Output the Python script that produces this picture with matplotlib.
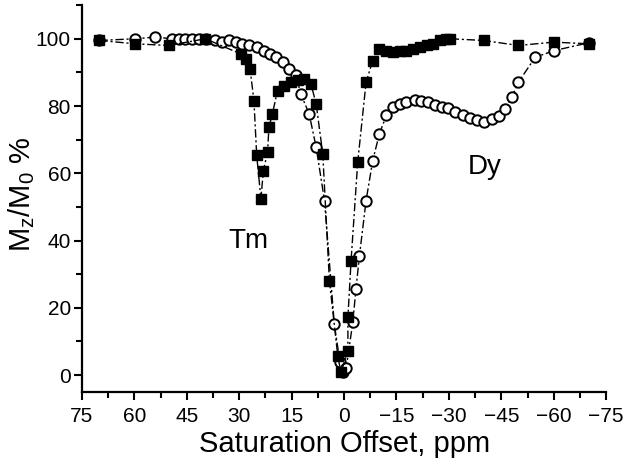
import matplotlib
matplotlib.use("Agg")
import matplotlib.pyplot as plt
from matplotlib.ticker import MultipleLocator

plt.rcParams['font.family'] = ['Liberation Sans', 'DejaVu Sans']
plt.rcParams['mathtext.fontset'] = 'custom'
plt.rcParams['mathtext.rm'] = 'Liberation Sans'
plt.rcParams['mathtext.default'] = 'regular'

# Tm (filled squares): offset in ppm, Mz/M0 in %
tm_offset = [70, 59.8, 50.2, 39.7, 29.6, 28.2, 26.9, 25.8, 25.0, 23.8, 23.1, 21.9,
             21.5, 20.5, 19.05, 17.2, 15.2, 13.3, 11.4, 9.5, 8.0, 6.1, 4.2, 1.8,
             0.9, -1.1, -1.1, -2.0, -3.9, -6.3, -8.2, -10.1, -12.1, -14.0, -15.9,
             -17.8, -19.7, -21.6, -23.6, -25.5, -27.4, -29.3, -30.3, -39.9, -49.9,
             -60.0, -70.0]
tm_signal = [99.5, 98.5, 98, 100, 95.5, 94, 91, 81.6, 65.3, 52.4, 60.8, 66.3,
             73.7, 77.7, 84.6, 86.1, 87.1, 87.6, 88.1, 86.6, 80.7, 65.8, 28.1, 5.7,
             0.8, 7.2, 17.2, 34, 63.3, 87.1, 93.5, 97, 96.5, 96, 96.5,
             96.5, 97, 97.5, 98, 98.5, 99.5, 100, 100, 99.5, 98,
             99, 98.5]

# Dy (open circles)
dy_offset = [70, 59.8, 54, 49.2, 47.3, 45.4, 43.5, 41.6, 39.5, 36.8, 34.9, 33.0,
             31.0, 29.1, 27.2, 25.0, 23.0, 21.2, 19.5, 17.6, 15.7, 13.8, 12.4, 10.0,
             8.0, 5.6, 2.8, 1.2, 0.3, -0.6, -2.5, -3.4, -4.4, -6.3, -8.2, -10.1,
             -12.1, -14.0, -15.9, -17.8, -20.2, -22.1, -24.1, -25.9, -27.9, -29.8,
             -31.7, -34.1, -36.0, -37.9, -39.9, -42.2, -44.2, -46.1, -48.0, -49.9,
             -54.7, -60.2, -70.0]
dy_signal = [99.5, 100, 100.5, 100, 100, 100, 100, 100, 100, 99.5, 99, 99.5,
             99, 98.5, 98, 97.5, 96.5, 95.5, 94.5, 93.2, 91, 89.3, 83.6, 77.7,
             67.8, 51.9, 15.2, 4, 1, 2, 15.7, 25.6, 35.5, 51.9, 63.8, 71.7,
             77.2, 79.7, 80.7, 81.3, 81.9, 81.6, 81.2, 80.4, 79.7, 79.4,
             78.2, 77.2, 76.4, 75.7, 75.2, 76.2, 77.0, 79.2, 82.6, 87.1,
             94.5, 96.5, 98.8]

fig = plt.figure(figsize=(6.24, 4.66), dpi=100)
ax = fig.add_axes([0.1314, 0.159, 0.84, 0.83])

dashdot = (0, (6, 2, 1.5, 2))
ax.plot(dy_offset, dy_signal, color='black', linestyle=dashdot, linewidth=1.0,
        marker='o', markersize=7.5, markerfacecolor='white',
        markeredgecolor='black', markeredgewidth=1.4)
ax.plot(tm_offset, tm_signal, color='black', linestyle=dashdot, linewidth=1.0,
        marker='s', markersize=6.5, markerfacecolor='black',
        markeredgecolor='black')

ax.text(27.3, 40, 'Tm', fontsize=20, ha='center', va='center')
ax.text(-40.2, 62, 'Dy', fontsize=20, ha='center', va='center')

ax.set_xlim(75, -75)
ax.set_ylim(-5, 110)
ax.xaxis.set_major_locator(MultipleLocator(15))
ax.xaxis.set_minor_locator(MultipleLocator(7.5))
ax.yaxis.set_major_locator(MultipleLocator(20))
ax.yaxis.set_minor_locator(MultipleLocator(10))
ax.set_yticks([0, 20, 40, 60, 80, 100])
ax.tick_params(which='major', direction='out', length=6, width=1.5, labelsize=15)
ax.tick_params(which='minor', direction='out', length=4, width=1.5)
ax.tick_params(axis='y', which='major', pad=2)
ax.tick_params(axis='x', which='major', pad=5)

for side in ['top', 'right']:
    ax.spines[side].set_visible(False)
for side in ['left', 'bottom']:
    ax.spines[side].set_linewidth(1.6)

ax.set_xlabel('Saturation Offset, ppm', fontsize=21, labelpad=3)
ax.set_ylabel('M$_z$/M$_0$ %', fontsize=21)
ax.yaxis.set_label_coords(-0.085, 0.51)

fig.savefig('out.png', dpi=100)
